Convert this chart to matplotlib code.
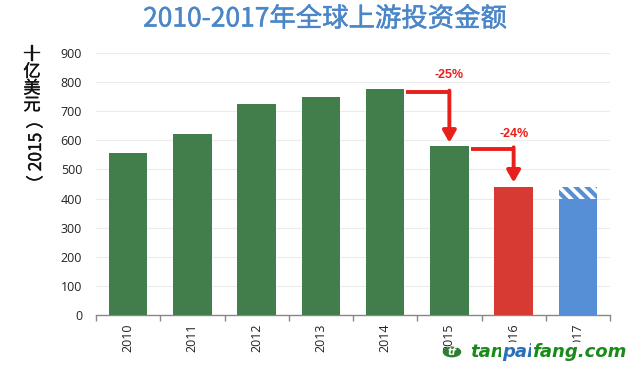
import matplotlib
matplotlib.use("Agg")
import matplotlib.pyplot as plt
import matplotlib.patheffects as pe
from matplotlib.patches import Circle

# data (billion USD, 2015 money)
years = ["2010", "2011", "2012", "2013", "2014", "2015", "2016", "2017"]
invest = [555, 622, 725, 748, 775, 580, 440, 400]
invest_2017_high = 440          # hatched top of the 2017 bar
bar_colors = ["#417e4b"] * 6 + ["#d63a32", "#568fd6"]

# drop arrows: (start x, end x, horizontal level, tip level, label, label level)
drops = [(4.33, 5.0, 765, 592, "-25%", 825),
         (5.33, 6.0, 570, 455, "-24%", 622)]

plt.rcParams["font.family"] = ["Noto Sans CJK SC", "DejaVu Sans"]
plt.rcParams["hatch.linewidth"] = 3.0

fig = plt.figure(figsize=(6.4, 3.72), dpi=100)
ax = fig.add_axes([96 / 640, 1 - 315 / 372, (610 - 96) / 640, (315 - 53) / 372])

x = list(range(len(years)))
ax.bar(x, invest, width=0.6, color=bar_colors, zorder=3)
# hatched uncertainty band on 2017
ax.bar(7, invest_2017_high - invest[7], bottom=invest[7], width=0.6,
       facecolor="white", edgecolor="#568fd6", linewidth=0, hatch="\\\\\\", zorder=3)

red = "#e8201c"
for x0, x1, ylev, ytip, lab, ylab in drops:
    ax.plot([x0, x1], [ylev, ylev], color=red, lw=2.8, solid_capstyle="butt", zorder=4)
    ax.annotate("", xy=(x1, ytip), xytext=(x1, ylev + 6),
                arrowprops=dict(arrowstyle="-|>,head_length=0.7,head_width=0.4",
                                color=red, lw=2.8, shrinkA=0, shrinkB=0), zorder=4)
    ax.text(x1, ylab, lab, color=red, fontsize=9, fontweight="bold",
            ha="center", va="center", family=["Liberation Sans", "DejaVu Sans"])

ax.set_ylim(0, 900)
ax.set_xlim(-0.5, 7.5)
ax.set_yticks(range(0, 901, 100))
ax.set_xticks(x)
ax.set_xticklabels(years, rotation=90)
ax.set_xticks([i - 0.5 for i in range(9)], minor=True)
ax.tick_params(axis="x", which="major", length=0, pad=6, labelsize=9, labelcolor="#222222")
ax.tick_params(axis="x", which="minor", length=4, color="#888888", width=1)
ax.tick_params(axis="y", length=0, pad=10, labelsize=9, labelcolor="#222222")
for lab in ax.get_xticklabels() + ax.get_yticklabels():
    lab.set_family(["Open Sans", "DejaVu Sans"])

ax.grid(axis="y", color="#ececec", lw=0.8, zorder=0)
for s in ["top", "right", "left"]:
    ax.spines[s].set_visible(False)
ax.spines["bottom"].set_color("#888888")
ax.spines["bottom"].set_linewidth(1.0)

# title (slight stroke to thicken the regular weight)
title_col = "#4a86c8"
fig.text(325 / 640, 1 - 19 / 372, "2010-2017年全球上游投资金额", color=title_col,
         fontsize=19, ha="center", va="center",
         path_effects=[pe.Stroke(linewidth=0.35, foreground=title_col), pe.Normal()])

# vertical y-axis label: upright CJK, rotated year reading upwards
thick = [pe.Stroke(linewidth=0.25, foreground="#111111"), pe.Normal()]
for i, ch in enumerate("十亿美元"):
    fig.text(32 / 640, 1 - (55 + i * 16.7) / 372, ch, fontsize=12.5,
             ha="center", va="center", color="#111111", path_effects=thick)
fig.text(36 / 640, 1 - 152 / 372, "（ 2015 ）", fontsize=12.5, rotation=90,
         ha="center", va="center", color="#111111", path_effects=thick)

# watermark
fig.patches.append(Circle((452 / 640, 1 - 352 / 372), 0.0145, transform=fig.transFigure,
                          facecolor="#2e7d32", edgecolor="none", zorder=5))
fig.text(452 / 640, 1 - 352 / 372, "tf", color="white", fontsize=7, fontweight="bold",
         style="italic", ha="center", va="center", zorder=6, family="DejaVu Sans")
fig.canvas.draw()
renderer = fig.canvas.get_renderer()
xpos = 470
for part, col in [("tan", "#1a8a1a"), ("pai", "#2a6fb8"), ("fang.com", "#1a8a1a")]:
    t = fig.text(xpos / 640, 1 - 352 / 372, part, color=col, fontsize=13,
                 fontweight="bold", style="italic", ha="left", va="center",
                 family="DejaVu Sans", zorder=6,
                 bbox=dict(facecolor="white", edgecolor="none", pad=0.5))
    bb = t.get_window_extent(renderer)
    xpos += bb.width - 1.5

fig.savefig("out.png", dpi=100)
